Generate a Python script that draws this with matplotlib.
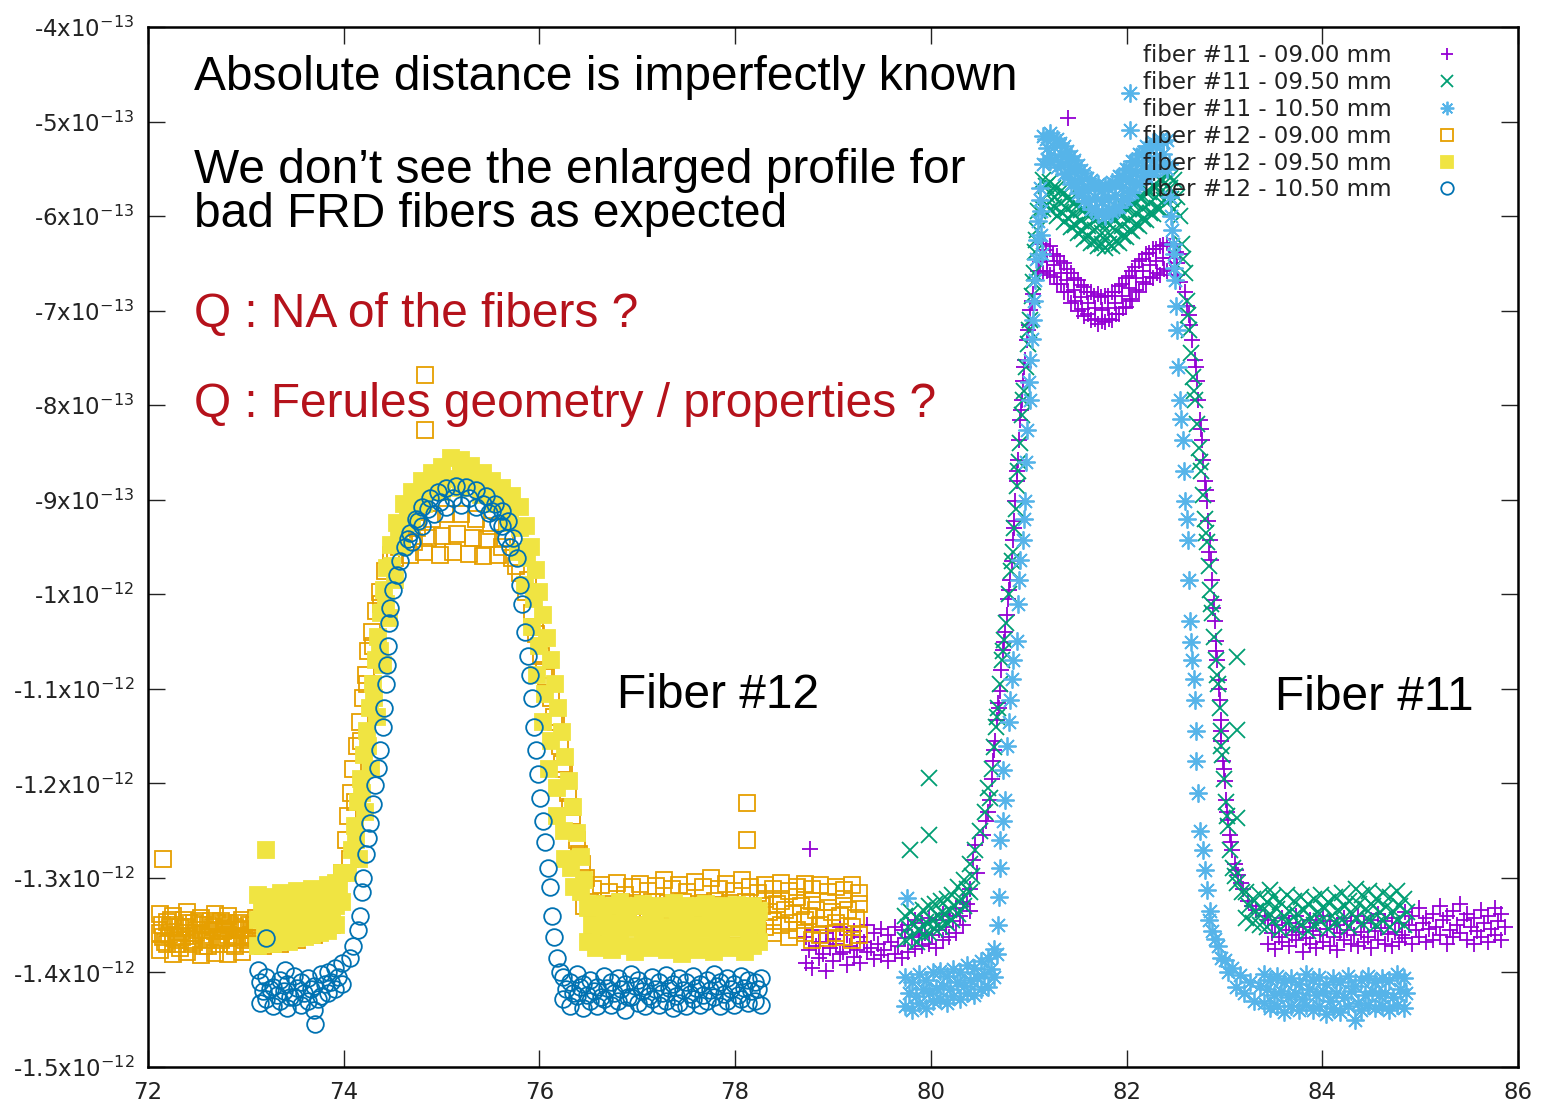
import numpy as np
import matplotlib.pyplot as plt

plt.rcParams['font.family'] = 'DejaVu Sans'
plt.rcParams['mathtext.fontset'] = 'dejavusans'

### DATA  (y in units of 1e-13)
labels = ['fiber #11 - 09.00 mm', 'fiber #11 - 09.50 mm', 'fiber #11 - 10.50 mm',
          'fiber #12 - 09.00 mm', 'fiber #12 - 09.50 mm', 'fiber #12 - 10.50 mm']

f11_900 = [
    (78.77,-12.69),(81.40,-4.96),
    (78.72,-13.62),(78.72,-13.90),(78.79,-13.55),(78.79,-13.95),(78.86,-13.68),(78.86,-13.85),(78.93,-13.58),(78.93,-13.98),
    (79.00,-13.65),(79.00,-13.88),(79.07,-13.52),(79.07,-13.80),(79.14,-13.60),(79.14,-13.92),(79.21,-13.56),(79.21,-13.84),
    (79.28,-13.62),(79.28,-13.90),(79.35,-13.50),(79.35,-13.78),(79.42,-13.58),(79.42,-13.86),(79.49,-13.54),(79.49,-13.82),
    (79.56,-13.60),(79.56,-13.88),(79.63,-13.52),(79.63,-13.80),(79.70,-13.55),(79.70,-13.85),
    (79.77,-13.50),(79.77,-13.78),(79.84,-13.45),(79.84,-13.75),(79.91,-13.48),(79.91,-13.72),(79.98,-13.42),(79.98,-13.70),
    (80.05,-13.45),(80.05,-13.74),(80.12,-13.38),(80.12,-13.66),(80.19,-13.40),(80.19,-13.62),(80.26,-13.32),(80.26,-13.58),
    (80.33,-13.25),(80.33,-13.50),(80.40,-13.12),(80.40,-13.35),
    (78.755,-13.76),(78.825,-13.72),(78.895,-13.80),(78.965,-13.74),(79.035,-13.70),(79.105,-13.78),(79.175,-13.72),
    (79.245,-13.76),(79.315,-13.68),(79.385,-13.74),(79.455,-13.70),(79.525,-13.76),(79.595,-13.68),(79.665,-13.72),
    (79.735,-13.64),(79.805,-13.62),(79.875,-13.60),(79.945,-13.58),(80.015,-13.60),(80.085,-13.55),(80.155,-13.52),
    (80.225,-13.46),(80.295,-13.40),(80.365,-13.28),
    (80.43,-12.81),(80.47,-12.95),(80.53,-12.55),(80.56,-12.40),(80.60,-12.18),(80.62,-11.95),(80.635,-11.76),(80.66,-11.55),
    (80.675,-11.33),(80.69,-11.15),(80.706,-11.02),(80.72,-10.80),(80.737,-10.59),(80.76,-10.40),(80.778,-10.22),(80.79,-10.05),
    (80.81,-9.85),(80.83,-9.65),(80.84,-9.43),(80.85,-9.22),(80.86,-9.01),(80.88,-8.80),(80.89,-8.58),(80.90,-8.37),
    (80.91,-8.16),(80.93,-7.95),(80.94,-7.74),(80.96,-7.52),(80.98,-7.31),(81.00,-7.15),(81.01,-6.99),(81.04,-6.82),
    (81.06,-6.68),(81.09,-6.58),(81.115,-6.49),
    (80.45,-12.65),(80.58,-12.30),(80.65,-11.65),(80.70,-11.20),(80.75,-10.50),(80.80,-9.95),(80.85,-9.30),(80.88,-8.70),
    (80.92,-8.05),(80.95,-7.60),(80.99,-7.20),(81.03,-6.90),
    (81.15,-6.30),(81.15,-6.60),(81.22,-6.32),(81.22,-6.62),(81.29,-6.42),(81.29,-6.72),(81.36,-6.50),(81.36,-6.80),
    (81.43,-6.60),(81.43,-6.92),(81.50,-6.68),(81.50,-7.00),(81.57,-6.75),(81.57,-7.06),(81.64,-6.80),(81.64,-7.10),
    (81.71,-6.82),(81.71,-7.14),(81.78,-6.84),(81.78,-7.12),(81.85,-6.80),(81.85,-7.10),(81.92,-6.74),(81.92,-7.04),
    (81.99,-6.66),(81.99,-6.96),(82.06,-6.58),(82.06,-6.90),(82.13,-6.48),(82.13,-6.80),(82.20,-6.40),(82.20,-6.72),
    (82.27,-6.35),(82.27,-6.65),(82.34,-6.32),(82.34,-6.62),(82.41,-6.28),(82.41,-6.58),(82.48,-6.30),(82.48,-6.62),
    (82.55,-6.40),(82.55,-6.70),
    (81.185,-6.47),(81.255,-6.52),(81.325,-6.60),(81.395,-6.68),(81.465,-6.78),(81.535,-6.86),(81.605,-6.92),(81.675,-6.97),
    (81.745,-6.99),(81.815,-6.97),(81.885,-6.92),(81.955,-6.85),(82.025,-6.76),(82.095,-6.66),(82.165,-6.58),(82.235,-6.52),
    (82.305,-6.48),(82.375,-6.44),(82.445,-6.44),(82.515,-6.50),
    (81.18,-6.36),(81.25,-6.40),(81.32,-6.48),(81.39,-6.56),(81.46,-6.65),(81.53,-6.73),(81.60,-6.80),(81.67,-6.84),
    (81.74,-6.86),(81.81,-6.84),(81.88,-6.80),(81.95,-6.72),(82.02,-6.63),(82.09,-6.54),(82.16,-6.45),(82.23,-6.39),
    (82.30,-6.35),(82.37,-6.31),(82.44,-6.32),(82.51,-6.38),
    (81.19,-6.58),(81.26,-6.64),(81.33,-6.72),(81.40,-6.80),(81.47,-6.90),(81.54,-6.98),(81.61,-7.04),(81.68,-7.09),
    (81.75,-7.11),(81.82,-7.09),(81.89,-7.04),(81.96,-6.97),(82.03,-6.88),(82.10,-6.78),(82.17,-6.70),(82.24,-6.64),
    (82.31,-6.60),(82.38,-6.56),(82.45,-6.56),(82.52,-6.62),
    (82.60,-6.80),(82.62,-6.95),(82.65,-7.15),(82.67,-7.31),(82.70,-7.52),(82.72,-7.74),(82.73,-7.95),(82.75,-8.16),
    (82.77,-8.37),(82.78,-8.58),(82.80,-8.80),(82.82,-9.01),(82.83,-9.22),(82.85,-9.43),(82.86,-9.64),(82.87,-9.85),
    (82.89,-10.06),(82.90,-10.28),(82.91,-10.49),(82.92,-10.70),(82.94,-10.91),(82.95,-11.12),(82.96,-11.33),(82.97,-11.55),
    (82.99,-11.76),(83.005,-11.97),(83.02,-12.18),(83.04,-12.39),(83.06,-12.55),(83.08,-12.71),(83.11,-12.85),(83.14,-12.97),
    (83.19,-13.12),(83.24,-13.24),(83.32,-13.34),(83.41,-13.40),
    (82.64,-7.05),(82.71,-7.60),(82.76,-8.25),(82.81,-8.90),(82.84,-9.55),(82.88,-10.15),(82.91,-10.60),(82.94,-11.00),
    (82.96,-11.45),(83.00,-11.85),(83.03,-12.30),(83.07,-12.62),(83.12,-12.92),(83.17,-13.05),(83.28,-13.30),
    (83.45,-13.45),(83.45,-13.70),(83.52,-13.50),(83.52,-13.75),(83.59,-13.42),(83.59,-13.68),(83.66,-13.48),(83.66,-13.72),
    (83.73,-13.40),(83.73,-13.66),(83.80,-13.52),(83.80,-13.78),(83.87,-13.44),(83.87,-13.70),(83.94,-13.48),(83.94,-13.74),
    (84.01,-13.40),(84.01,-13.68),(84.08,-13.46),(84.08,-13.72),(84.15,-13.50),(84.15,-13.76),(84.22,-13.42),(84.22,-13.66),
    (84.29,-13.46),(84.29,-13.70),(84.36,-13.40),(84.36,-13.72),(84.43,-13.48),(84.43,-13.68),(84.50,-13.44),(84.50,-13.74),
    (84.57,-13.38),(84.57,-13.66),(84.64,-13.46),(84.64,-13.70),(84.71,-13.42),(84.71,-13.72),(84.78,-13.48),(84.78,-13.68),
    (84.85,-13.36),(84.85,-13.64),(84.92,-13.40),(84.92,-13.70),(84.99,-13.32),(84.99,-13.62),(85.06,-13.42),(85.06,-13.68),
    (85.13,-13.38),(85.13,-13.66),(85.20,-13.30),(85.20,-13.60),(85.27,-13.40),(85.27,-13.70),(85.34,-13.35),(85.34,-13.62),
    (85.41,-13.28),(85.41,-13.58),(85.48,-13.38),(85.48,-13.66),(85.55,-13.42),(85.55,-13.70),(85.62,-13.34),(85.62,-13.62),
    (85.69,-13.40),(85.69,-13.68),(85.76,-13.32),(85.76,-13.60),(85.83,-13.38),(85.83,-13.66),
    (83.485,-13.58),(83.555,-13.62),(83.625,-13.55),(83.695,-13.60),(83.765,-13.57),(83.835,-13.64),(83.905,-13.56),
    (83.975,-13.60),(84.045,-13.54),(84.115,-13.62),(84.185,-13.58),(84.255,-13.55),(84.325,-13.60),(84.395,-13.57),
    (84.465,-13.62),(84.535,-13.56),(84.605,-13.53),(84.675,-13.59),(84.745,-13.57),(84.815,-13.60),(84.885,-13.50),
    (84.955,-13.55),(85.025,-13.48),(85.095,-13.54),(85.165,-13.52),(85.235,-13.45),(85.305,-13.55),(85.375,-13.50),
    (85.445,-13.44),(85.515,-13.52),(85.585,-13.56),(85.655,-13.48),(85.725,-13.54),(85.795,-13.46),(85.865,-13.52),
]

f11_950 = [
    (79.98,-11.94),(79.98,-12.55),(79.79,-12.71),(83.13,-10.66),(83.13,-11.44),(83.13,-12.37),(83.47,-13.13),
    (79.74,-13.40),(79.74,-13.66),(79.80,-13.36),(79.80,-13.62),(79.86,-13.42),(79.86,-13.68),(79.92,-13.34),(79.92,-13.60),
    (79.98,-13.30),(79.98,-13.58),(80.04,-13.28),(80.04,-13.54),(80.10,-13.24),(80.10,-13.52),(80.16,-13.22),(80.16,-13.48),
    (80.22,-13.18),(80.22,-13.45),(80.28,-13.10),(80.28,-13.38),(80.34,-13.02),(80.34,-13.30),(80.40,-12.85),(80.40,-13.15),
    (79.77,-13.52),(79.83,-13.50),(79.89,-13.55),(79.95,-13.47),(80.01,-13.45),(80.07,-13.40),(80.13,-13.38),(80.19,-13.34),
    (80.25,-13.30),(80.31,-13.22),(80.37,-13.12),(80.42,-12.98),
    (80.45,-12.70),(80.50,-12.50),(80.55,-12.30),(80.58,-12.05),(80.62,-11.85),(80.645,-11.62),(80.67,-11.40),(80.69,-11.20),
    (80.71,-10.95),(80.73,-10.70),(80.75,-10.48),(80.77,-10.30),(80.80,-10.00),(80.82,-9.75),(80.84,-9.55),(80.85,-9.30),
    (80.87,-9.10),(80.88,-8.85),(80.90,-8.60),(80.91,-8.40),(80.93,-8.10),(80.95,-7.85),(80.97,-7.60),(80.99,-7.35),
    (81.01,-7.10),(81.03,-6.85),(81.05,-6.60),(81.06,-6.38),(81.08,-6.15),(81.10,-5.95),
    (80.60,-12.15),(80.68,-11.30),(80.74,-10.60),(80.83,-9.65),(80.89,-8.70),(80.94,-7.95),(81.00,-7.20),(81.04,-6.70),
    (81.07,-6.25),
    (81.15,-5.62),(81.15,-5.92),(81.22,-5.64),(81.22,-5.94),(81.29,-5.70),(81.29,-6.00),(81.36,-5.76),(81.36,-6.06),
    (81.43,-5.82),(81.43,-6.12),(81.50,-5.88),(81.50,-6.18),(81.57,-5.94),(81.57,-6.24),(81.64,-5.98),(81.64,-6.28),
    (81.71,-6.02),(81.71,-6.32),(81.78,-6.04),(81.78,-6.34),(81.85,-6.02),(81.85,-6.32),(81.92,-5.98),(81.92,-6.28),
    (81.99,-5.92),(81.99,-6.22),(82.06,-5.86),(82.06,-6.16),(82.13,-5.80),(82.13,-6.10),(82.20,-5.74),(82.20,-6.04),
    (82.27,-5.68),(82.27,-5.98),(82.34,-5.62),(82.34,-5.92),(82.41,-5.55),(82.41,-5.85),(82.48,-5.62),(82.48,-5.92),
    (81.185,-5.78),(81.255,-5.80),(81.325,-5.86),(81.395,-5.92),(81.465,-5.98),(81.535,-6.05),(81.605,-6.10),(81.675,-6.15),
    (81.745,-6.18),(81.815,-6.18),(81.885,-6.15),(81.955,-6.10),(82.025,-6.04),(82.095,-5.97),(82.165,-5.92),(82.235,-5.86),
    (82.305,-5.80),(82.375,-5.72),(82.445,-5.70),(82.515,-5.80),
    (81.18,-5.68),(81.25,-5.70),(81.32,-5.75),(81.39,-5.81),(81.46,-5.87),(81.53,-5.94),(81.60,-5.99),(81.67,-6.04),
    (81.74,-6.07),(81.81,-6.07),(81.88,-6.04),(81.95,-5.99),(82.02,-5.93),(82.09,-5.86),(82.16,-5.81),(82.23,-5.75),
    (82.30,-5.69),(82.37,-5.62),(82.44,-5.60),
    (81.19,-5.88),(81.26,-5.90),(81.33,-5.96),(81.40,-6.02),(81.47,-6.09),(81.54,-6.16),(81.61,-6.21),(81.68,-6.26),
    (81.75,-6.29),(81.82,-6.29),(81.89,-6.26),(81.96,-6.21),(82.03,-6.15),(82.10,-6.08),(82.17,-6.03),(82.24,-5.97),
    (82.31,-5.91),(82.38,-5.83),(82.45,-5.82),
    (82.55,-6.00),(82.57,-6.30),(82.60,-6.60),(82.62,-6.90),(82.64,-7.20),(82.66,-7.45),(82.68,-7.70),(82.70,-7.95),
    (82.72,-8.20),(82.74,-8.45),(82.76,-8.70),(82.78,-8.95),(82.80,-9.20),(82.82,-9.45),(82.84,-9.70),(82.85,-9.95),
    (82.87,-10.20),(82.89,-10.45),(82.91,-10.70),(82.93,-10.95),(82.95,-11.20),(82.96,-11.45),(82.98,-11.70),(83.00,-11.95),
    (83.02,-12.20),(83.04,-12.45),(83.06,-12.70),(83.09,-12.90),(83.13,-13.05),(83.18,-13.15),
    (82.58,-6.45),(82.63,-7.05),(82.69,-7.85),(82.75,-8.60),(82.81,-9.35),(82.86,-10.10),(82.92,-10.85),(82.97,-11.60),
    (83.03,-12.35),(83.11,-12.98),
    (83.22,-13.15),(83.22,-13.42),(83.29,-13.22),(83.29,-13.48),(83.36,-13.18),(83.36,-13.50),(83.43,-13.25),(83.43,-13.52),
    (83.50,-13.20),(83.50,-13.46),(83.57,-13.26),(83.57,-13.55),(83.64,-13.18),(83.64,-13.48),(83.71,-13.24),(83.71,-13.52),
    (83.78,-13.20),(83.78,-13.50),(83.85,-13.28),(83.85,-13.56),(83.92,-13.22),(83.92,-13.50),(83.99,-13.18),(83.99,-13.46),
    (84.06,-13.25),(84.06,-13.54),(84.13,-13.20),(84.13,-13.48),(84.20,-13.16),(84.20,-13.45),(84.27,-13.24),(84.27,-13.52),
    (84.34,-13.12),(84.34,-13.42),(84.41,-13.18),(84.41,-13.48),(84.48,-13.14),(84.48,-13.44),(84.55,-13.22),(84.55,-13.50),
    (84.62,-13.16),(84.62,-13.46),(84.69,-13.20),(84.69,-13.52),(84.76,-13.14),(84.76,-13.44),(84.83,-13.22),(84.83,-13.50),
    (83.255,-13.30),(83.325,-13.35),(83.395,-13.34),(83.465,-13.38),(83.535,-13.33),(83.605,-13.40),(83.675,-13.36),
    (83.745,-13.38),(83.815,-13.34),(83.885,-13.42),(83.955,-13.36),(84.025,-13.32),(84.095,-13.40),(84.165,-13.34),
    (84.235,-13.30),(84.305,-13.38),(84.375,-13.28),(84.445,-13.33),(84.515,-13.30),(84.585,-13.36),(84.655,-13.31),
    (84.725,-13.35),(84.795,-13.30),(84.865,-13.36),
]

f11_1050 = [
    (82.035,-4.70),(82.035,-5.09),(79.76,-13.21),
    (79.74,-14.05),(79.74,-14.35),(79.81,-14.10),(79.81,-14.40),(79.88,-14.02),(79.88,-14.32),(79.95,-14.08),(79.95,-14.38),
    (80.02,-14.00),(80.02,-14.30),(80.09,-13.98),(80.09,-14.28),(80.16,-14.04),(80.16,-14.32),(80.23,-13.96),(80.23,-14.25),
    (80.30,-14.00),(80.30,-14.28),(80.37,-13.92),(80.37,-14.22),(80.44,-13.95),(80.44,-14.24),(80.51,-13.88),(80.51,-14.18),
    (80.58,-13.85),(80.58,-14.15),(80.65,-13.75),(80.65,-14.05),
    (79.775,-14.22),(79.845,-14.25),(79.915,-14.18),(79.985,-14.22),(80.055,-14.16),(80.125,-14.14),(80.195,-14.18),
    (80.265,-14.10),(80.335,-14.14),(80.405,-14.08),(80.475,-14.06),(80.545,-14.02),(80.615,-13.96),(80.68,-13.80),
    (80.69,-13.50),(80.70,-13.20),(80.71,-12.90),(80.71,-12.60),(80.74,-12.40),(80.76,-12.18),(80.74,-11.86),(80.78,-11.60),
    (80.80,-11.35),(80.81,-11.12),(80.83,-10.90),(80.84,-10.70),(80.88,-10.49),(80.89,-10.10),(80.90,-9.85),(80.91,-9.64),
    (80.94,-9.43),(80.95,-9.20),(80.96,-9.01),(80.97,-8.60),(80.98,-8.26),(81.01,-7.95),(81.00,-7.75),(81.01,-7.52),
    (81.03,-7.30),(81.04,-7.10),(81.05,-6.90),(81.06,-6.68),(81.07,-6.45),(81.08,-6.25),(81.10,-6.05),(81.115,-5.83),
    (81.12,-5.70),(81.13,-5.95),(81.13,-6.20),(81.14,-6.40),(82.44,-5.80),(82.45,-6.00),(82.47,-6.30),(82.48,-6.55),
    (81.15,-5.15),(81.15,-5.45),(81.22,-5.12),(81.22,-5.42),(81.29,-5.18),(81.29,-5.48),(81.36,-5.26),(81.36,-5.56),
    (81.43,-5.36),(81.43,-5.66),(81.50,-5.46),(81.50,-5.76),(81.57,-5.54),(81.57,-5.84),(81.64,-5.62),(81.64,-5.92),
    (81.71,-5.66),(81.71,-5.98),(81.78,-5.68),(81.78,-6.00),(81.85,-5.64),(81.85,-5.96),(81.92,-5.58),(81.92,-5.90),
    (81.99,-5.50),(81.99,-5.82),(82.06,-5.42),(82.06,-5.74),(82.13,-5.34),(82.13,-5.66),(82.20,-5.26),(82.20,-5.58),
    (82.27,-5.22),(82.27,-5.52),(82.34,-5.18),(82.34,-5.48),(82.41,-5.20),(82.41,-5.50),
    (81.185,-5.28),(81.255,-5.27),(81.325,-5.34),(81.395,-5.42),(81.465,-5.52),(81.535,-5.62),(81.605,-5.72),(81.675,-5.80),
    (81.745,-5.84),(81.815,-5.82),(81.885,-5.78),(81.955,-5.70),(82.025,-5.62),(82.095,-5.54),(82.165,-5.46),(82.235,-5.40),
    (82.305,-5.36),(82.375,-5.34),(82.43,-5.45),
    (81.18,-5.18),(81.25,-5.17),(81.32,-5.23),(81.39,-5.31),(81.46,-5.41),(81.53,-5.51),(81.60,-5.60),(81.67,-5.68),
    (81.74,-5.72),(81.81,-5.70),(81.88,-5.66),(81.95,-5.58),(82.02,-5.50),(82.09,-5.42),(82.16,-5.34),(82.23,-5.28),
    (82.30,-5.24),(82.37,-5.22),
    (81.19,-5.40),(81.26,-5.40),(81.33,-5.46),(81.40,-5.54),(81.47,-5.64),(81.54,-5.74),(81.61,-5.84),(81.68,-5.92),
    (81.75,-5.96),(81.82,-5.94),(81.89,-5.90),(81.96,-5.82),(82.03,-5.74),(82.10,-5.66),(82.17,-5.58),(82.24,-5.52),
    (82.31,-5.48),(82.38,-5.46),
    (82.46,-6.15),(82.48,-6.40),(82.49,-6.68),(82.50,-6.95),(82.515,-7.21),(82.53,-7.60),(82.545,-7.95),(82.56,-8.15),
    (82.58,-8.37),(82.59,-8.70),(82.60,-9.01),(82.62,-9.20),(82.63,-9.43),(82.64,-9.85),(82.65,-10.28),(82.66,-10.50),
    (82.67,-10.70),(82.69,-10.90),(82.70,-11.12),(82.71,-11.45),(82.71,-11.76),(82.73,-12.10),(82.75,-12.50),(82.78,-12.71),
    (82.80,-12.92),(82.82,-13.13),(82.85,-13.35),(82.87,-13.56),(82.93,-13.72),(83.005,-13.87),(83.08,-13.95),(83.16,-14.03),
    (83.26,-14.10),(83.36,-14.14),
    (82.84,-13.45),(82.90,-13.65),(82.96,-13.85),(83.04,-14.00),(83.12,-14.15),(83.20,-14.22),(83.30,-14.30),
    (83.40,-14.02),(83.40,-14.32),(83.47,-14.08),(83.47,-14.38),(83.54,-14.04),(83.54,-14.35),(83.61,-14.10),(83.61,-14.42),
    (83.68,-14.06),(83.68,-14.36),(83.76,-14.12),(83.76,-14.40),(83.83,-14.02),(83.83,-14.34),(83.90,-14.08),(83.90,-14.40),
    (83.97,-14.05),(83.97,-14.36),(84.04,-14.12),(84.04,-14.44),(84.11,-14.06),(84.11,-14.38),(84.18,-14.10),(84.18,-14.42),
    (84.26,-14.04),(84.26,-14.36),(84.33,-14.14),(84.33,-14.50),(84.40,-14.08),(84.40,-14.40),(84.47,-14.04),(84.47,-14.34),
    (84.54,-14.10),(84.54,-14.38),(84.61,-14.06),(84.61,-14.36),(84.68,-14.08),(84.68,-14.40),(84.76,-14.02),(84.76,-14.34),
    (84.83,-14.06),(84.83,-14.38),
    (83.435,-14.18),(83.505,-14.24),(83.575,-14.20),(83.645,-14.26),(83.72,-14.22),(83.795,-14.28),(83.865,-14.18),
    (83.935,-14.24),(84.005,-14.20),(84.075,-14.30),(84.145,-14.22),(84.22,-14.26),(84.295,-14.20),(84.365,-14.32),
    (84.435,-14.24),(84.505,-14.20),(84.575,-14.24),(84.645,-14.22),(84.72,-14.26),(84.795,-14.18),(84.86,-14.22),
]

f12_900 = [
    (72.15,-12.80),(74.83,-7.68),(74.83,-8.26),(78.12,-12.21),(78.12,-12.60),
    (72.12,-13.38),(72.12,-13.58),(72.12,-13.76),(72.19,-13.47),(72.19,-13.70),(72.26,-13.40),(72.26,-13.62),(72.26,-13.80),
    (72.33,-13.52),(72.33,-13.74),(72.40,-13.36),(72.40,-13.58),(72.40,-13.78),(72.47,-13.48),(72.47,-13.68),
    (72.54,-13.42),(72.54,-13.60),(72.54,-13.82),(72.61,-13.50),(72.61,-13.72),(72.68,-13.38),(72.68,-13.56),(72.68,-13.79),
    (72.75,-13.46),(72.75,-13.66),(72.82,-13.40),(72.82,-13.60),(72.82,-13.80),(72.89,-13.52),(72.89,-13.72),
    (72.96,-13.44),(72.96,-13.62),(72.96,-13.78),(73.03,-13.50),(73.03,-13.70),(73.10,-13.42),(73.10,-13.64),
    (72.155,-13.62),(72.225,-13.52),(72.295,-13.70),(72.365,-13.45),(72.435,-13.66),(72.505,-13.55),(72.575,-13.72),
    (72.645,-13.46),(72.715,-13.64),(72.785,-13.54),(72.855,-13.70),(72.925,-13.48),(72.995,-13.66),(73.065,-13.55),
    (72.14,-13.50),(72.21,-13.60),(72.28,-13.50),(72.35,-13.62),(72.42,-13.48),(72.49,-13.58),(72.56,-13.50),
    (72.63,-13.62),(72.70,-13.48),(72.77,-13.56),(72.84,-13.50),(72.91,-13.62),(72.98,-13.54),(73.05,-13.60),
    (72.17,-13.68),(72.24,-13.44),(72.31,-13.66),(72.38,-13.52),(72.45,-13.70),(72.52,-13.46),(72.59,-13.66),
    (72.66,-13.52),(72.73,-13.70),(72.80,-13.48),(72.87,-13.62),(72.94,-13.55),(73.01,-13.64),(73.08,-13.50),
    (73.18,-13.30),(73.18,-13.72),(73.35,-13.28),(73.35,-13.70),(73.52,-13.25),(73.52,-13.66),(73.70,-13.20),(73.70,-13.60),
    (73.88,-13.10),(73.88,-13.50),
    (73.98,-12.95),(74.02,-12.60),(74.04,-12.35),(74.07,-12.10),(74.10,-11.85),(74.14,-11.60),(74.17,-11.35),(74.20,-11.10),
    (74.23,-10.85),(74.25,-10.60),(74.29,-10.40),(74.33,-10.18),(74.37,-9.98),(74.42,-9.75),(74.48,-9.58),
    (74.06,-12.80),(74.12,-12.20),(74.18,-11.55),(74.24,-10.95),(74.30,-10.55),(74.38,-10.10),
    (74.56,-9.50),(74.62,-9.35),(74.68,-9.58),(74.75,-9.30),(74.82,-9.55),(74.90,-9.20),(74.98,-9.58),(75.05,-9.15),
    (75.12,-9.55),(75.20,-9.15),(75.28,-9.57),(75.35,-9.20),(75.42,-9.60),(75.50,-9.28),(75.58,-9.58),(75.65,-9.40),
    (75.72,-9.62),
    (74.52,-9.62),(74.60,-9.42),(74.72,-9.45),(74.86,-9.40),(75.00,-9.38),(75.16,-9.36),(75.32,-9.40),(75.46,-9.42),
    (75.62,-9.50),(75.76,-9.70),
    (75.80,-9.78),(75.86,-9.98),(75.92,-10.20),(75.97,-10.42),(76.02,-10.65),(76.07,-10.88),(76.12,-11.10),(76.17,-11.35),
    (76.21,-11.60),(76.25,-11.85),(76.29,-12.10),(76.33,-12.35),(76.38,-12.60),(76.43,-12.85),(76.48,-13.00),
    (75.88,-9.85),(75.95,-10.35),(76.05,-10.80),(76.15,-11.30),(76.23,-11.80),(76.31,-12.25),(76.40,-12.75),(76.46,-13.30),
    (76.52,-13.25),
    (76.55,-13.12),(76.55,-13.50),(76.63,-13.08),(76.63,-13.46),(76.71,-13.15),(76.71,-13.55),(76.79,-13.05),(76.79,-13.48),
    (76.87,-13.18),(76.87,-13.52),(76.95,-13.10),(76.95,-13.45),(77.03,-13.06),(77.03,-13.50),(77.11,-13.14),(77.11,-13.56),
    (77.19,-13.09),(77.19,-13.47),(77.27,-13.02),(77.27,-13.44),(77.35,-13.12),(77.35,-13.52),(77.43,-13.08),(77.43,-13.48),
    (77.51,-13.15),(77.51,-13.55),(77.59,-13.04),(77.59,-13.45),(77.67,-13.10),(77.67,-13.50),(77.75,-13.00),(77.75,-13.46),
    (77.83,-13.12),(77.83,-13.53),(77.91,-13.06),(77.91,-13.48),(77.99,-13.14),(77.99,-13.55),(78.07,-13.02),(78.07,-13.50),
    (78.15,-13.10),(78.15,-13.45),(78.23,-13.16),(78.23,-13.56),(78.31,-13.08),(78.31,-13.52),(78.39,-13.12),(78.39,-13.58),
    (78.47,-13.05),(78.47,-13.50),(78.55,-13.14),(78.55,-13.62),(78.63,-13.10),(78.63,-13.55),(78.71,-13.06),(78.71,-13.58),
    (78.79,-13.12),(78.79,-13.66),(78.87,-13.08),(78.87,-13.60),(78.95,-13.15),(78.95,-13.64),(79.03,-13.10),(79.03,-13.58),
    (79.11,-13.13),(79.11,-13.62),(79.19,-13.08),(79.19,-13.66),(79.27,-13.16),(79.27,-13.60),
    (76.59,-13.30),(76.67,-13.28),(76.75,-13.32),(76.83,-13.26),(76.91,-13.34),(76.99,-13.28),(77.07,-13.30),(77.15,-13.25),
    (77.23,-13.33),(77.31,-13.27),(77.39,-13.31),(77.47,-13.26),(77.55,-13.34),(77.63,-13.28),(77.71,-13.30),(77.79,-13.24),
    (77.87,-13.32),(77.95,-13.27),(78.03,-13.30),(78.11,-13.26),(78.19,-13.33),(78.27,-13.30),(78.35,-13.36),(78.43,-13.28),
    (78.51,-13.34),(78.59,-13.38),(78.67,-13.30),(78.75,-13.40),(78.83,-13.34),(78.91,-13.42),(78.99,-13.36),(79.07,-13.40),
    (79.15,-13.34),(79.23,-13.42),
    (78.31,-13.22),(78.39,-13.46),(78.47,-13.24),(78.55,-13.48),(78.63,-13.20),(78.71,-13.44),(78.79,-13.24),(78.87,-13.50),
    (78.95,-13.26),(79.03,-13.48),(79.11,-13.22),(79.19,-13.52),(79.27,-13.28),
]

f12_950 = [
    (73.21,-12.71),
    (73.12,-13.18),(73.12,-13.45),(73.12,-13.72),(73.20,-13.25),(73.20,-13.50),(73.20,-13.68),(73.28,-13.20),(73.28,-13.42),
    (73.28,-13.70),(73.36,-13.16),(73.36,-13.48),(73.36,-13.66),(73.44,-13.22),(73.44,-13.40),(73.44,-13.68),(73.52,-13.14),
    (73.52,-13.45),(73.52,-13.64),(73.60,-13.18),(73.60,-13.38),(73.60,-13.62),(73.68,-13.12),(73.68,-13.42),(73.68,-13.60),
    (73.76,-13.15),(73.76,-13.35),(73.76,-13.58),(73.84,-13.08),(73.84,-13.32),(73.84,-13.56),(73.92,-13.05),(73.92,-13.30),
    (73.92,-13.50),(73.98,-12.95),(73.98,-13.25),
    (73.16,-13.32),(73.24,-13.62),(73.32,-13.30),(73.40,-13.58),(73.48,-13.28),(73.56,-13.55),(73.64,-13.26),(73.72,-13.50),
    (73.80,-13.22),(73.88,-13.45),(73.95,-13.12),
    (74.04,-12.95),(74.08,-12.70),(74.12,-12.45),(74.15,-12.20),(74.18,-11.95),(74.21,-11.70),(74.24,-11.45),(74.27,-11.20),
    (74.30,-10.95),(74.33,-10.70),(74.35,-10.45),(74.38,-10.20),(74.41,-9.95),(74.44,-9.72),(74.48,-9.48),(74.54,-9.25),
    (74.62,-9.05),(74.70,-8.92),(74.80,-8.80),(74.90,-8.72),(75.00,-8.65),(75.10,-8.56),(75.20,-8.58),(75.30,-8.64),
    (75.42,-8.72),(75.52,-8.80),(75.62,-8.88),(75.72,-8.96),(75.80,-9.08),(75.86,-9.28),(75.91,-9.50),(75.96,-9.74),
    (76.00,-9.98),(76.04,-10.22),(76.08,-10.46),(76.12,-10.70),(76.16,-10.95),(76.19,-11.20),(76.23,-11.46),(76.26,-11.72),
    (76.30,-11.98),(76.34,-12.25),(76.38,-12.52),(76.42,-12.78),(76.46,-13.02),
    (74.13,-12.60),(74.19,-12.10),(74.25,-11.60),(74.31,-11.10),(74.37,-10.60),(74.43,-10.10),(74.49,-9.70),(74.57,-9.38),
    (74.66,-9.15),(74.76,-8.98),(74.90,-8.85),(75.05,-8.78),(75.20,-8.74),(75.35,-8.80),(75.48,-8.88),(75.60,-8.98),
    (75.70,-9.10),(75.80,-9.30),(75.87,-9.62),(75.94,-10.05),(76.00,-10.55),(76.06,-11.05),(76.12,-11.55),(76.18,-12.05),
    (76.25,-12.50),(76.32,-12.90),(76.42,-13.15),
    (74.16,-12.80),(74.22,-12.30),(74.28,-11.85),(74.34,-11.30),(74.40,-10.75),(74.46,-10.25),(74.52,-9.85),(74.60,-9.50),
    (74.70,-9.25),(74.82,-9.05),(75.00,-8.92),(75.20,-8.88),(75.40,-8.95),(75.55,-9.05),(75.68,-9.25),(75.78,-9.55),
    (75.85,-9.90),(75.92,-10.35),(75.98,-10.85),(76.04,-11.35),(76.10,-11.85),(76.18,-12.35),(76.26,-12.80),(76.35,-13.10),
    (76.50,-13.32),(76.50,-13.68),(76.58,-13.28),(76.58,-13.74),(76.66,-13.35),(76.66,-13.70),(76.74,-13.30),(76.74,-13.76),
    (76.82,-13.26),(76.82,-13.66),(76.90,-13.34),(76.90,-13.72),(76.98,-13.30),(76.98,-13.78),(77.06,-13.28),(77.06,-13.70),
    (77.14,-13.36),(77.14,-13.74),(77.22,-13.30),(77.22,-13.68),(77.30,-13.33),(77.30,-13.76),(77.38,-13.27),(77.38,-13.72),
    (77.46,-13.35),(77.46,-13.80),(77.54,-13.30),(77.54,-13.70),(77.62,-13.32),(77.62,-13.76),(77.70,-13.28),(77.70,-13.72),
    (77.78,-13.34),(77.78,-13.78),(77.86,-13.30),(77.86,-13.70),(77.94,-13.36),(77.94,-13.74),(78.02,-13.29),(78.02,-13.72),
    (78.10,-13.33),(78.10,-13.78),(78.18,-13.30),(78.18,-13.72),(78.24,-13.35),(78.24,-13.68),
    (76.54,-13.50),(76.62,-13.52),(76.70,-13.48),(76.78,-13.55),(76.86,-13.46),(76.94,-13.53),(77.02,-13.50),(77.10,-13.56),
    (77.18,-13.48),(77.26,-13.52),(77.34,-13.55),(77.42,-13.49),(77.50,-13.57),(77.58,-13.50),(77.66,-13.54),(77.74,-13.48),
    (77.82,-13.56),(77.90,-13.50),(77.98,-13.53),(78.06,-13.49),(78.14,-13.55),(78.22,-13.50),
]

f12_1050 = [
    (73.21,-13.64),(73.12,-13.97),(73.40,-13.97),(73.71,-14.55),
    (73.14,-14.10),(73.14,-14.32),(73.21,-14.05),(73.21,-14.28),(73.28,-14.15),(73.28,-14.35),(73.35,-14.08),(73.35,-14.30),
    (73.42,-14.12),(73.42,-14.38),(73.49,-14.04),(73.49,-14.26),(73.56,-14.10),(73.56,-14.34),(73.63,-14.06),(73.63,-14.30),
    (73.70,-14.14),(73.70,-14.40),(73.77,-14.02),(73.77,-14.25),(73.84,-14.00),(73.84,-14.22),(73.91,-13.95),(73.91,-14.18),
    (73.98,-13.90),(73.98,-14.12),
    (73.175,-14.20),(73.245,-14.18),(73.315,-14.24),(73.385,-14.20),(73.455,-14.26),(73.525,-14.16),(73.595,-14.22),
    (73.665,-14.18),(73.735,-14.28),(73.805,-14.12),(73.875,-14.10),(73.945,-14.05),
    (74.06,-13.85),(74.10,-13.72),(74.15,-13.55),(74.17,-13.40),(74.19,-13.15),(74.20,-13.00),(74.23,-12.75),(74.25,-12.58),
    (74.27,-12.42),(74.30,-12.22),(74.32,-12.02),(74.35,-11.84),(74.37,-11.65),(74.40,-11.40),(74.41,-11.20),(74.43,-10.95),
    (74.44,-10.75),(74.45,-10.55),(74.46,-10.30),(74.47,-10.15),(74.50,-9.95),(74.54,-9.80),(74.58,-9.65),(74.63,-9.50),
    (74.68,-9.35),(74.74,-9.20),(74.80,-9.08),(74.88,-8.98),(74.96,-8.92),(75.05,-8.88),(75.15,-8.86),(75.25,-8.87),
    (75.35,-8.90),(75.45,-8.96),(75.55,-9.04),(75.62,-9.12),(75.68,-9.22),(75.73,-9.40),(75.77,-9.62),(75.80,-9.90),
    (75.82,-10.10),(75.85,-10.40),(75.88,-10.65),(75.90,-10.85),(75.92,-11.10),(75.94,-11.40),(75.96,-11.65),(75.99,-11.90),
    (76.01,-12.15),(76.04,-12.40),(76.06,-12.62),(76.09,-12.90),(76.11,-13.10),(76.13,-13.40),(76.15,-13.62),(76.18,-13.85),
    (76.21,-14.00),
    (74.70,-9.45),(74.80,-9.28),(74.92,-9.15),(75.05,-9.08),(75.20,-9.06),(75.35,-9.08),(75.48,-9.14),(75.58,-9.25),
    (75.66,-9.40),
    (74.66,-9.42),(74.76,-9.22),(74.86,-9.10),(74.98,-9.02),(75.12,-8.98),(75.28,-8.98),(75.42,-9.04),(75.52,-9.12),
    (75.62,-9.28),(75.70,-9.50),
    (76.24,-14.05),(76.24,-14.28),(76.31,-14.10),(76.31,-14.35),(76.38,-14.02),(76.38,-14.25),(76.45,-14.12),(76.45,-14.38),
    (76.52,-14.08),(76.52,-14.30),(76.59,-14.15),(76.59,-14.36),(76.66,-14.04),(76.66,-14.28),(76.73,-14.10),(76.73,-14.34),
    (76.80,-14.06),(76.80,-14.30),(76.87,-14.12),(76.87,-14.40),(76.94,-14.02),(76.94,-14.26),(77.01,-14.08),(77.01,-14.32),
    (77.08,-14.14),(77.08,-14.36),(77.15,-14.05),(77.15,-14.28),(77.22,-14.10),(77.22,-14.34),(77.29,-14.03),(77.29,-14.30),
    (77.36,-14.12),(77.36,-14.38),(77.43,-14.06),(77.43,-14.32),(77.50,-14.10),(77.50,-14.36),(77.57,-14.04),(77.57,-14.28),
    (77.64,-14.12),(77.64,-14.34),(77.71,-14.08),(77.71,-14.30),(77.78,-14.02),(77.78,-14.26),(77.85,-14.10),(77.85,-14.36),
    (77.92,-14.06),(77.92,-14.30),(77.99,-14.12),(77.99,-14.34),(78.06,-14.04),(78.06,-14.28),(78.13,-14.08),(78.13,-14.32),
    (78.20,-14.10),(78.20,-14.30),(78.26,-14.06),(78.26,-14.34),
    (76.275,-14.18),(76.345,-14.22),(76.415,-14.15),(76.485,-14.24),(76.555,-14.20),(76.625,-14.26),(76.695,-14.16),
    (76.765,-14.22),(76.835,-14.18),(76.905,-14.26),(76.975,-14.14),(77.045,-14.20),(77.115,-14.25),(77.185,-14.17),
    (77.255,-14.22),(77.325,-14.16),(77.395,-14.25),(77.465,-14.19),(77.535,-14.23),(77.605,-14.16),(77.675,-14.24),
    (77.745,-14.19),(77.815,-14.14),(77.885,-14.23),(77.955,-14.18),(78.025,-14.24),(78.095,-14.16),(78.165,-14.20),
    (78.23,-14.18),
]

xticks = [72, 74, 76, 78, 80, 82, 84, 86]
yticks = [-4, -5, -6, -7, -8, -9, -10, -11, -12, -13, -14, -15]
ytick_labels = [r'-4x10$^{-13}$', r'-5x10$^{-13}$', r'-6x10$^{-13}$', r'-7x10$^{-13}$',
                r'-8x10$^{-13}$', r'-9x10$^{-13}$', r'-1x10$^{-12}$', r'-1.1x10$^{-12}$',
                r'-1.2x10$^{-12}$', r'-1.3x10$^{-12}$', r'-1.4x10$^{-12}$', r'-1.5x10$^{-12}$']

series = [f11_900, f11_950, f11_1050, f12_900, f12_950, f12_1050]
colors = ['#9400D3', '#009E73', '#56B4E9', '#E69F00', '#F0E442', '#0072B2']
markers = ['+', 'x', (8, 2, 0), 's', 's', 'o']
sizes = [12, 11, 13, 11, 11, 12]
filled = [False, False, False, False, True, False]

### PLOT
fig = plt.figure(figsize=(15.5, 11.05), dpi=100)
ax = fig.add_axes([148/1550, 1-1067/1105, 1370/1550, 1040/1105])

for pts, c, m, s, f, lab in zip(series, colors, markers, sizes, filled, labels):
    x, y = zip(*pts)
    ax.plot(x, y, linestyle='none', marker=m, ms=s, mew=1.3,
            mec=c, mfc=(c if f else 'none'), label=lab)

ax.set_xlim(72, 86)
ax.set_ylim(-15, -4)
ax.set_xticks(xticks)
ax.set_xticklabels([str(t) for t in xticks])
ax.set_yticks(yticks)
ax.set_yticklabels(ytick_labels)
ax.tick_params(direction='in', length=12, width=1, top=True, right=True,
               labelsize=16.5, pad=10, colors='#222222')
for sp in ax.spines.values():
    sp.set_linewidth(1.8)

leg = ax.legend(loc='upper right', bbox_to_anchor=(0.9562, 0.9837), frameon=False,
                markerfirst=False, fontsize=16.5, handlelength=1.0, handletextpad=1.9,
                labelspacing=0.17, borderpad=0, borderaxespad=0, markerscale=0.75)
for t in leg.get_texts():
    t.set_color('#222222')

# slide annotations
big = dict(fontsize=34.5, family='Liberation Sans', va='baseline', ha='left', zorder=10)
red = '#B5121B'
ax.text(72.47, -4.667, 'Absolute distance is imperfectly known', **big)
ax.text(72.47, -5.651, 'We don\u2019t see the enlarged profile for', **big)
ax.text(72.47, -6.116, 'bad FRD fibers as expected', **big)
ax.text(72.47, -7.175, 'Q : NA of the fibers ?', color=red, **big)
ax.text(72.47, -8.127, 'Q : Ferules geometry / properties ?', color=red, **big)
ax.text(76.793, -11.206, 'Fiber #12', **big)
ax.text(83.517, -11.228, 'Fiber #11', **big)

plt.savefig('out.png', dpi=100)
